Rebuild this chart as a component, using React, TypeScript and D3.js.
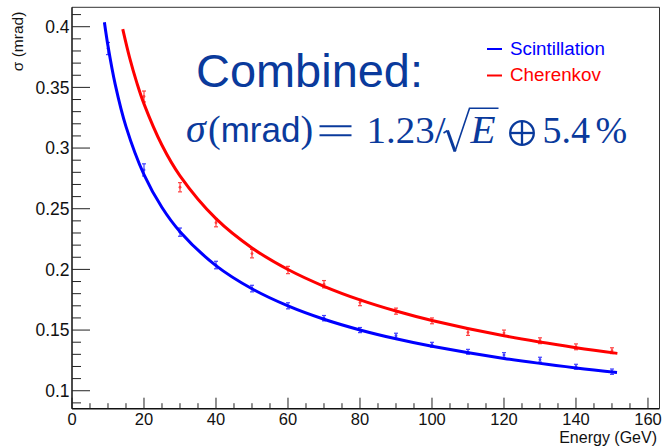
import React from "react";
import * as d3 from "d3";

// ---- data ----
const energies = [10, 20, 30, 40, 50, 60, 70, 80, 90, 100, 110, 120, 130, 140, 150];
const scintValues = [0.382, 0.282, 0.2307, 0.2036, 0.1842, 0.170, 0.1598, 0.150, 0.1453, 0.1379, 0.1321, 0.1294, 0.1256, 0.1198, 0.1157];
const scintErrors = [0.005, 0.005, 0.0034, 0.0031, 0.0027, 0.0025, 0.0022, 0.0021, 0.0021, 0.002, 0.002, 0.002, 0.002, 0.002, 0.0022];

const cherEnergies = [20, 30, 40, 50, 60, 70, 80, 90, 100, 110, 120, 130, 140, 150];
const cherValues = [0.3425, 0.2677, 0.2385, 0.213, 0.1995, 0.1878, 0.1727, 0.1656, 0.1576, 0.1481, 0.1475, 0.1412, 0.1362, 0.133];
const cherErrors = [0.0045, 0.0038, 0.0034, 0.0035, 0.003, 0.003, 0.0026, 0.0025, 0.0024, 0.0025, 0.0025, 0.0024, 0.0024, 0.0024];

// fit curves
const scintFitE = [9, 10, 12, 15, 20, 25, 30, 40, 50, 60, 70, 80, 90, 100, 120, 140, 151.4];
const scintFitV = [0.4037, 0.3841, 0.3525, 0.3177, 0.2781, 0.251, 0.2311, 0.2031, 0.184, 0.1699, 0.1589, 0.1501, 0.1428, 0.1366, 0.1266, 0.1188, 0.1151];
const cherFitE = [14.1, 16, 18, 20, 25, 30, 40, 50, 60, 70, 80, 90, 100, 120, 140, 151.5];
const cherFitV = [0.398, 0.3745, 0.3539, 0.3364, 0.3023, 0.2771, 0.2418, 0.2177, 0.1999, 0.1861, 0.1749, 0.1657, 0.1579, 0.1453, 0.1355, 0.1308];

const xMajorTicks = [0, 20, 40, 60, 80, 100, 120, 140, 160];
const yMajorTicks = [0.1, 0.15, 0.2, 0.25, 0.3, 0.35, 0.4];
const yTickLabels = ["0.1", "0.15", "0.2", "0.25", "0.3", "0.35", "0.4"];

const legendLabels = ["Scintillation", "Cherenkov"];
const BLUE = "#0000ff";
const RED = "#ff0000";
const TITLE = "#0a3a9c";

const FL = 72, FR = 659.5, FT = 7.3, FB = 408.7;

export default function App() {
  const x = d3.scaleLinear().domain([0, 163.2]).range([FL, FR]);
  const y = d3.scaleLinear().domain([0.0852, 0.416]).range([FB, FT]);

  const line = d3
    .line<[number, number]>()
    .x((d) => x(d[0]))
    .y((d) => y(d[1]))
    .curve(d3.curveCatmullRom.alpha(0.5));

  const scintFit = scintFitE.map((e, i) => [e, scintFitV[i]] as [number, number]);
  const cherFit = cherFitE.map((e, i) => [e, cherFitV[i]] as [number, number]);

  const xMinor = d3.range(0, 163, 5);
  const yMinor = d3.range(0.09, 0.4101, 0.01);

  const sans = "Liberation Sans, Arial, Helvetica, sans-serif";
  const serif = "Liberation Serif, Times New Roman, serif";

  const errBars = (es: number[], vs: number[], errs: number[], color: string) =>
    es.map((e, i) => {
      const cx = x(e);
      const y1 = y(vs[i] + errs[i]);
      const y2 = y(vs[i] - errs[i]);
      return (
        <g key={color + i} stroke={color} strokeWidth={1.2} opacity={0.75}>
          <line x1={cx} x2={cx} y1={y1} y2={y2} />
          <line x1={cx - 2} x2={cx + 2} y1={y1} y2={y1} />
          <line x1={cx - 2} x2={cx + 2} y1={y2} y2={y2} />
          <circle cx={cx} cy={y(vs[i])} r={1.4} fill={color} stroke="none" />
        </g>
      );
    });

  return (
    <svg
      width={662}
      height={447}
      style={{ position: "absolute", left: 0, top: 0, background: "#fff" }}
      fontFamily={sans}
    >
      <rect x={0} y={0} width={662} height={447} fill="#fff" />
      {/* frame */}
      <line x1={FL} x2={FR} y1={FT} y2={FT} stroke="#333" strokeWidth={1} />
      <line x1={FR} x2={FR} y1={FT} y2={FB} stroke="#333" strokeWidth={1} />
      <line x1={FL} x2={FL} y1={FT} y2={FB} stroke="#111" strokeWidth={1.5} />
      <line x1={FL} x2={FR} y1={FB} y2={FB} stroke="#111" strokeWidth={1.5} />

      {/* x ticks */}
      {xMinor.map((t) => (
        <line key={"xm" + t} x1={x(t)} x2={x(t)} y1={FB} y2={FB - (t % 20 === 0 ? 11 : 5.5)} stroke="#222" strokeWidth={1} />
      ))}
      {xMajorTicks.map((t) => (
        <text key={"xl" + t} x={x(t)} y={425.3} textAnchor="middle" fontSize={16.5} fill="#111">
          {t}
        </text>
      ))}
      {/* y ticks */}
      {yMinor.map((t, i) => {
        const major = yMajorTicks.some((m) => Math.abs(m - t) < 1e-6);
        return (
          <line key={"ym" + i} x1={FL} x2={FL + (major ? 18 : 9)} y1={y(t)} y2={y(t)} stroke="#222" strokeWidth={1} />
        );
      })}
      {yMajorTicks.map((t, i) => (
        <text key={"yl" + t} x={69.5} y={y(t) + 6.2} textAnchor="end" fontSize={17.5} fill="#111">
          {yTickLabels[i]}
        </text>
      ))}

      {/* axis titles */}
      <text x={657} y={443.3} textAnchor="end" fontSize={16} fill="#111">
        Energy (GeV)
      </text>
      <text transform="translate(22.5,11.7) rotate(-90)" textAnchor="end" fontSize={15.5} fill="#111">
        σ (mrad)
      </text>

      {/* error bars + points */}
      {errBars(energies, scintValues, scintErrors, BLUE)}
      {errBars(cherEnergies, cherValues, cherErrors, RED)}

      {/* fit curves */}
      <path d={line(scintFit) || ""} fill="none" stroke={BLUE} strokeWidth={3} />
      <path d={line(cherFit) || ""} fill="none" stroke={RED} strokeWidth={3} />

      {/* legend */}
      <line x1={487} x2={502} y1={49} y2={49} stroke={BLUE} strokeWidth={2} />
      <text x={510} y={55} fontSize={18.8} fill={BLUE}>
        {legendLabels[0]}
      </text>
      <line x1={487} x2={502} y1={75.5} y2={75.5} stroke={RED} strokeWidth={2} />
      <text x={510} y={81} fontSize={18.8} fill={RED}>
        {legendLabels[1]}
      </text>

      {/* annotation */}
      <text x={196} y={87} fontSize={46} fill={TITLE} textLength={227} lengthAdjust="spacingAndGlyphs">
        Combined:
      </text>
      <g fill={TITLE}>
        <text x={186} y={142} fontFamily={serif} fontStyle="italic" fontSize={40}>σ</text>
        <text x={208} y={142} fontFamily={serif} fontSize={38}>
          <tspan>(</tspan>
          <tspan fontFamily={sans} fontSize={35}>mrad</tspan>
          <tspan>)</tspan>
        </text>
        <g stroke={TITLE} strokeWidth={1.9}>
          <line x1={319.5} x2={351.5} y1={126.3} y2={126.3} />
          <line x1={319.5} x2={351.5} y1={135.3} y2={135.3} />
        </g>
        <text x={366.5} y={142.5} fontFamily={serif} fontSize={38} textLength={79} lengthAdjust="spacingAndGlyphs">1.23/</text>
        <path d="M443.5 133 L447.5 130.5" fill="none" stroke={TITLE} strokeWidth={1.6} />
        <path d="M447.5 130.5 L455 151.5" fill="none" stroke={TITLE} strokeWidth={3} />
        <path d="M455 151.5 L469.5 108.3 L498.5 108.3" fill="none" stroke={TITLE} strokeWidth={1.6} />
        <text x={470.5} y={143.3} fontFamily={serif} fontStyle="italic" fontSize={41}>E</text>
        <g stroke={TITLE} strokeWidth={2.3} fill="none">
          <circle cx={522} cy={133} r={11.8} />
          <line x1={510.2} x2={533.8} y1={133} y2={133} />
          <line x1={522} x2={522} y1={121.2} y2={144.8} />
        </g>
        <text x={542.5} y={143} fontFamily={serif} fontSize={38}>5.4</text>
        <text x={595.5} y={143} fontFamily={serif} fontSize={38}>%</text>
      </g>
    </svg>
  );
}
